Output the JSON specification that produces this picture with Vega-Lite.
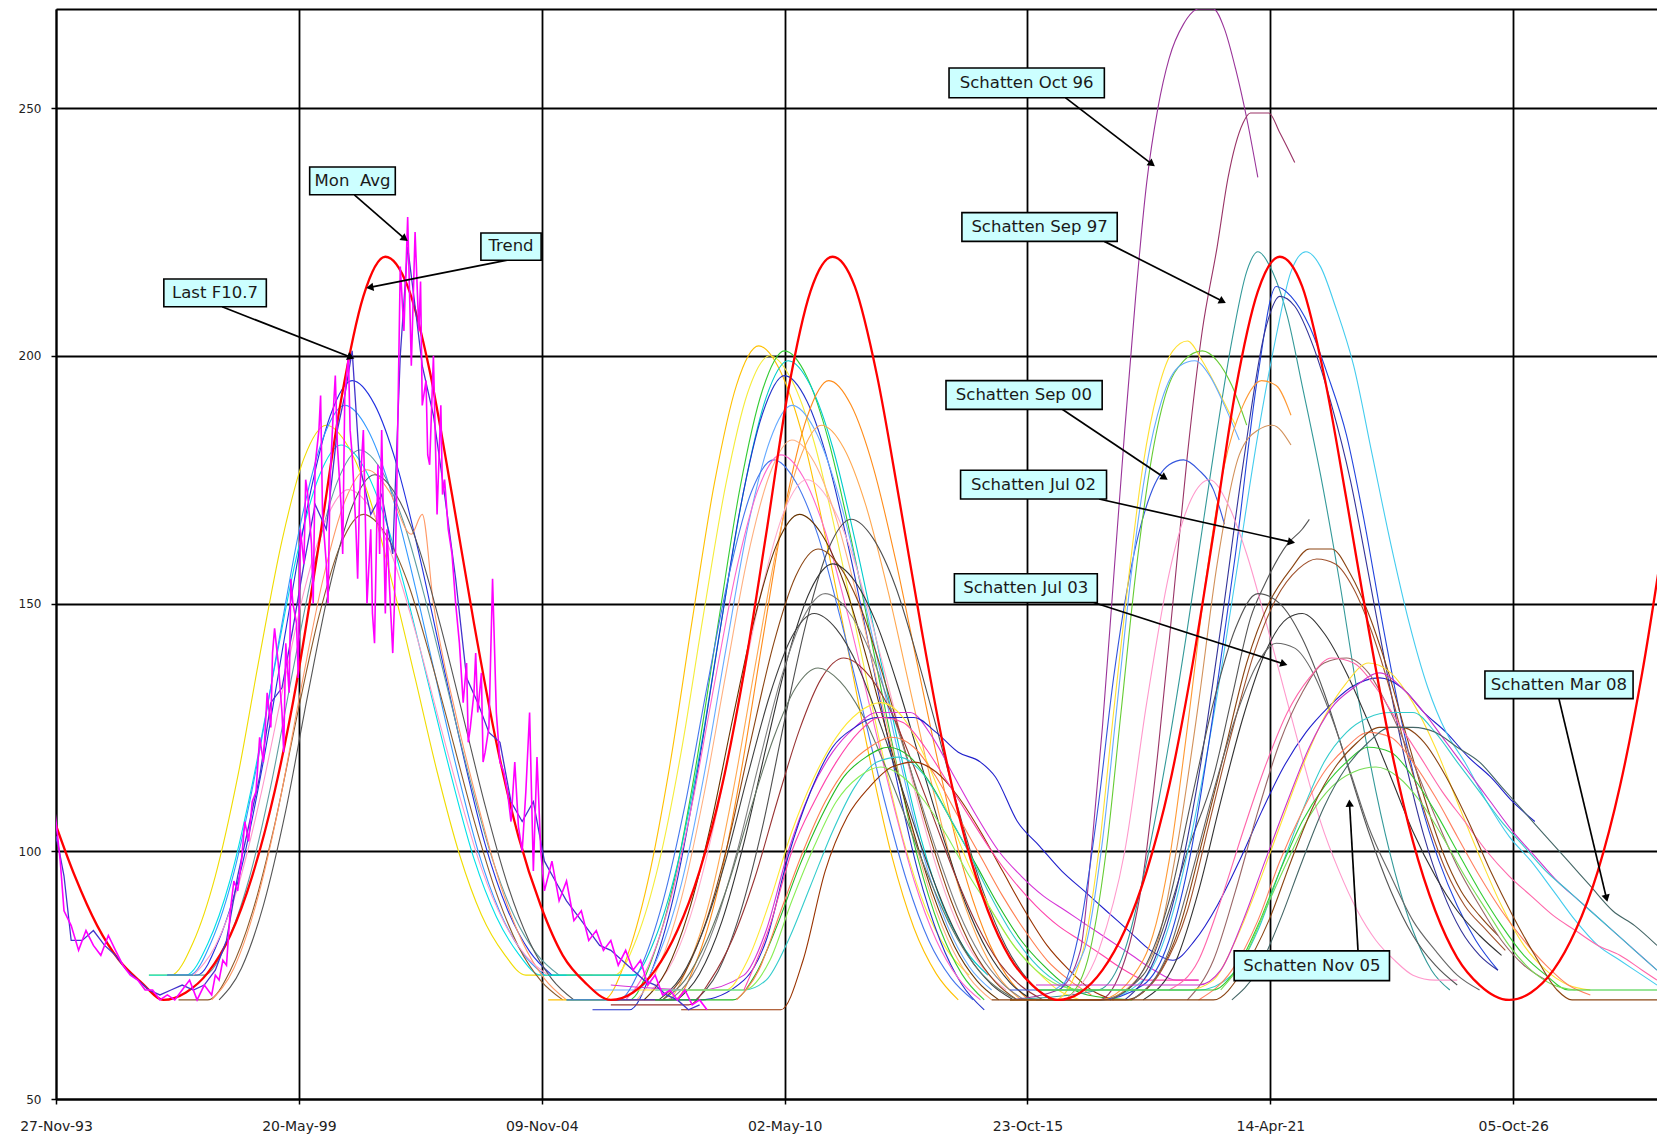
{
  "$schema": "https://vega.github.io/schema/vega-lite/v6.json",
  "width": 1601,
  "height": 1090,
  "autosize": {"type": "none"},
  "padding": {"left": 56, "top": 9, "right": 0, "bottom": 36},
  "background": "#ffffff",
  "datasets": {
    "schatten": [
      {"s":"a1","t":"1996-01","v":75},{"s":"a1","t":"1996-07","v":75},{"s":"a1","t":"1997-01","v":81.7},{"s":"a1","t":"1997-07","v":95},{"s":"a1","t":"1998-01","v":115},{"s":"a1","t":"1998-07","v":139.4},{"s":"a1","t":"1999-01","v":162.7},{"s":"a1","t":"1999-07","v":179.3},{"s":"a1","t":"2000-01","v":186},{"s":"a1","t":"2000-07","v":181.6},{"s":"a1","t":"2001-01","v":170.5},{"s":"a1","t":"2001-07","v":153.8},{"s":"a1","t":"2002-01","v":135},{"s":"a1","t":"2002-07","v":116.1},{"s":"a1","t":"2003-01","v":99.4},{"s":"a1","t":"2003-07","v":87.2},{"s":"a1","t":"2004-01","v":79.4},{"s":"a1","t":"2004-07","v":75},{"s":"a1","t":"2006-01","v":75},
      {"s":"a2","t":"1996-01","v":75},{"s":"a2","t":"1996-11","v":75},{"s":"a2","t":"1997-05","v":81.4},{"s":"a2","t":"1997-11","v":94.3},{"s":"a2","t":"1998-05","v":113.5},{"s":"a2","t":"1998-11","v":137.1},{"s":"a2","t":"1999-05","v":159.5},{"s":"a2","t":"1999-11","v":175.6},{"s":"a2","t":"2000-05","v":182},{"s":"a2","t":"2000-11","v":177.7},{"s":"a2","t":"2001-05","v":167},{"s":"a2","t":"2001-11","v":151},{"s":"a2","t":"2002-05","v":132.8},{"s":"a2","t":"2002-11","v":114.6},{"s":"a2","t":"2003-05","v":98.5},{"s":"a2","t":"2003-11","v":86.8},{"s":"a2","t":"2004-05","v":79.3},{"s":"a2","t":"2004-11","v":75},{"s":"a2","t":"2007-01","v":75},
      {"s":"a3","t":"1996-06","v":75},{"s":"a3","t":"1997-02","v":75},{"s":"a3","t":"1997-08","v":82.2},{"s":"a3","t":"1998-02","v":96.6},{"s":"a3","t":"1998-08","v":118.2},{"s":"a3","t":"1999-02","v":144.6},{"s":"a3","t":"1999-08","v":169.8},{"s":"a3","t":"2000-02","v":187.8},{"s":"a3","t":"2000-08","v":195},{"s":"a3","t":"2001-02","v":190.2},{"s":"a3","t":"2001-08","v":178.2},{"s":"a3","t":"2002-02","v":160.2},{"s":"a3","t":"2002-08","v":139.8},{"s":"a3","t":"2003-02","v":119.4},{"s":"a3","t":"2003-08","v":101.4},{"s":"a3","t":"2004-02","v":88.2},{"s":"a3","t":"2004-08","v":79.8},{"s":"a3","t":"2005-02","v":75},
      {"s":"a4","t":"1996-06","v":75},{"s":"a4","t":"1996-12","v":75},{"s":"a4","t":"1997-06","v":81.9},{"s":"a4","t":"1997-12","v":95.7},{"s":"a4","t":"1998-06","v":116.4},{"s":"a4","t":"1998-12","v":141.7},{"s":"a4","t":"1999-06","v":165.9},{"s":"a4","t":"1999-12","v":183.1},{"s":"a4","t":"2000-06","v":190},{"s":"a4","t":"2000-12","v":185.4},{"s":"a4","t":"2001-06","v":173.9},{"s":"a4","t":"2001-12","v":156.7},{"s":"a4","t":"2002-06","v":137.1},{"s":"a4","t":"2002-12","v":117.6},{"s":"a4","t":"2003-06","v":100.3},{"s":"a4","t":"2003-12","v":87.7},{"s":"a4","t":"2004-06","v":79.6},{"s":"a4","t":"2004-12","v":75},
      {"s":"a5","t":"1996-09","v":70},{"s":"a5","t":"1997-05","v":70},{"s":"a5","t":"1997-11","v":75.9},{"s":"a5","t":"1998-05","v":87.6},{"s":"a5","t":"1998-11","v":105.3},{"s":"a5","t":"1999-05","v":126.8},{"s":"a5","t":"1999-11","v":147.4},{"s":"a5","t":"2000-05","v":162.1},{"s":"a5","t":"2000-11","v":168},{"s":"a5","t":"2001-05","v":164.1},{"s":"a5","t":"2001-11","v":154.3},{"s":"a5","t":"2002-05","v":139.6},{"s":"a5","t":"2002-11","v":122.9},{"s":"a5","t":"2003-05","v":106.3},{"s":"a5","t":"2003-11","v":91.6},{"s":"a5","t":"2004-05","v":80.8},{"s":"a5","t":"2004-11","v":73.9},{"s":"a5","t":"2005-05","v":70},
      {"s":"a6","t":"1996-06","v":75},{"s":"a6","t":"1997-04","v":75},{"s":"a6","t":"1997-10","v":81.4},{"s":"a6","t":"1998-04","v":94.1},{"s":"a6","t":"1998-10","v":113.2},{"s":"a6","t":"1999-04","v":136.5},{"s":"a6","t":"1999-10","v":158.7},{"s":"a6","t":"2000-04","v":174.6},{"s":"a6","t":"2000-10","v":181},{"s":"a6","t":"2001-04","v":176.8},{"s":"a6","t":"2001-10","v":166.2},{"s":"a6","t":"2002-04","v":150.3},{"s":"a6","t":"2002-10","v":132.2},{"s":"a6","t":"2003-04","v":114.2},{"s":"a6","t":"2003-10","v":98.3},{"s":"a6","t":"2004-04","v":86.7},{"s":"a6","t":"2004-10","v":79.2},{"s":"a6","t":"2005-04","v":75},
      {"s":"a7","t":"1997-06","v":70},{"s":"a7","t":"1997-12","v":76.4},{"s":"a7","t":"1998-06","v":89.3},{"s":"a7","t":"1998-12","v":108.5},{"s":"a7","t":"1999-06","v":132.1},{"s":"a7","t":"1999-12","v":154.5},{"s":"a7","t":"2000-06","v":170.6},{"s":"a7","t":"2000-12","v":177},{"s":"a7","t":"2001-06","v":172.7},{"s":"a7","t":"2001-12","v":164},{"s":"a7","t":"2002-03","v":168},{"s":"a7","t":"2002-06","v":150},{"s":"a7","t":"2002-12","v":127.8},{"s":"a7","t":"2003-06","v":109.6},{"s":"a7","t":"2003-12","v":93.5},{"s":"a7","t":"2004-06","v":81.8},{"s":"a7","t":"2004-12","v":74.3},{"s":"a7","t":"2005-06","v":70},
      {"s":"a8","t":"1997-01","v":75},{"s":"a8","t":"1997-07","v":80.9},{"s":"a8","t":"1998-01","v":92.6},{"s":"a8","t":"1998-07","v":110.3},{"s":"a8","t":"1999-01","v":131.8},{"s":"a8","t":"1999-07","v":152.4},{"s":"a8","t":"2000-01","v":167.1},{"s":"a8","t":"2000-07","v":173},{"s":"a8","t":"2001-01","v":169.1},{"s":"a8","t":"2001-07","v":159.3},{"s":"a8","t":"2002-01","v":144.6},{"s":"a8","t":"2002-07","v":127.9},{"s":"a8","t":"2003-01","v":111.3},{"s":"a8","t":"2003-07","v":96.6},{"s":"a8","t":"2004-01","v":85.8},{"s":"a8","t":"2004-07","v":78.9},{"s":"a8","t":"2005-01","v":75},
      {"s":"a9","t":"1997-08","v":70},{"s":"a9","t":"1998-02","v":76.4},{"s":"a9","t":"1998-08","v":89.1},{"s":"a9","t":"1999-02","v":108.2},{"s":"a9","t":"1999-08","v":131.5},{"s":"a9","t":"2000-02","v":153.7},{"s":"a9","t":"2000-08","v":169.6},{"s":"a9","t":"2001-02","v":176},{"s":"a9","t":"2001-08","v":171.8},{"s":"a9","t":"2002-02","v":161.2},{"s":"a9","t":"2002-08","v":145.3},{"s":"a9","t":"2003-02","v":127.2},{"s":"a9","t":"2003-08","v":109.2},{"s":"a9","t":"2004-02","v":93.3},{"s":"a9","t":"2004-08","v":81.7},{"s":"a9","t":"2005-02","v":74.2},{"s":"a9","t":"2005-08","v":70},

      {"s":"b1","t":"2005-01","v":70},{"s":"b1","t":"2006-04","v":70},{"s":"b1","t":"2006-10","v":77.9},{"s":"b1","t":"2007-04","v":93.8},{"s":"b1","t":"2007-10","v":117.5},{"s":"b1","t":"2008-04","v":146.6},{"s":"b1","t":"2008-10","v":174.3},{"s":"b1","t":"2009-04","v":194.1},{"s":"b1","t":"2009-10","v":202},{"s":"b1","t":"2010-04","v":196.7},{"s":"b1","t":"2010-10","v":183.5},{"s":"b1","t":"2011-04","v":163.7},{"s":"b1","t":"2011-10","v":141.3},{"s":"b1","t":"2012-04","v":118.8},{"s":"b1","t":"2012-10","v":99},{"s":"b1","t":"2013-04","v":84.5},{"s":"b1","t":"2013-10","v":75.3},{"s":"b1","t":"2014-04","v":70},
      {"s":"b2","t":"2005-06","v":75},{"s":"b2","t":"2006-07","v":75},{"s":"b2","t":"2007-01","v":82.5},{"s":"b2","t":"2007-07","v":97.5},{"s":"b2","t":"2008-01","v":120},{"s":"b2","t":"2008-07","v":147.5},{"s":"b2","t":"2009-01","v":173.8},{"s":"b2","t":"2009-07","v":192.5},{"s":"b2","t":"2010-01","v":200},{"s":"b2","t":"2010-07","v":195},{"s":"b2","t":"2011-01","v":182.5},{"s":"b2","t":"2011-07","v":163.8},{"s":"b2","t":"2012-01","v":142.5},{"s":"b2","t":"2012-07","v":121.3},{"s":"b2","t":"2013-01","v":102.5},{"s":"b2","t":"2013-07","v":88.8},{"s":"b2","t":"2014-01","v":80},{"s":"b2","t":"2014-07","v":75},
      {"s":"b3","t":"2005-06","v":70},{"s":"b3","t":"2006-11","v":70},{"s":"b3","t":"2007-05","v":77.9},{"s":"b3","t":"2007-11","v":93.6},{"s":"b3","t":"2008-05","v":117.2},{"s":"b3","t":"2008-11","v":146},{"s":"b3","t":"2009-05","v":173.5},{"s":"b3","t":"2009-11","v":193.1},{"s":"b3","t":"2010-05","v":201},{"s":"b3","t":"2010-11","v":195.8},{"s":"b3","t":"2011-05","v":182.7},{"s":"b3","t":"2011-11","v":163},{"s":"b3","t":"2012-05","v":140.7},{"s":"b3","t":"2012-11","v":118.5},{"s":"b3","t":"2013-05","v":98.8},{"s":"b3","t":"2013-11","v":84.4},{"s":"b3","t":"2014-05","v":75.2},{"s":"b3","t":"2014-11","v":70},
      {"s":"b4","t":"2005-01","v":75},{"s":"b4","t":"2006-12","v":75},{"s":"b4","t":"2007-06","v":82.4},{"s":"b4","t":"2007-12","v":97.3},{"s":"b4","t":"2008-06","v":119.6},{"s":"b4","t":"2008-12","v":146.9},{"s":"b4","t":"2009-06","v":173},{"s":"b4","t":"2009-12","v":191.6},{"s":"b4","t":"2010-06","v":199},{"s":"b4","t":"2010-12","v":194},{"s":"b4","t":"2011-06","v":181.6},{"s":"b4","t":"2011-12","v":163},{"s":"b4","t":"2012-06","v":142},{"s":"b4","t":"2012-12","v":120.9},{"s":"b4","t":"2013-06","v":102.3},{"s":"b4","t":"2013-12","v":88.6},{"s":"b4","t":"2014-06","v":80},{"s":"b4","t":"2014-12","v":75},
      {"s":"b5","t":"2006-01","v":68},{"s":"b5","t":"2006-11","v":68},{"s":"b5","t":"2007-05","v":75.7},{"s":"b5","t":"2007-11","v":91},{"s":"b5","t":"2008-05","v":114.1},{"s":"b5","t":"2008-11","v":142.2},{"s":"b5","t":"2009-05","v":169.1},{"s":"b5","t":"2009-11","v":188.3},{"s":"b5","t":"2010-05","v":196},{"s":"b5","t":"2010-11","v":190.9},{"s":"b5","t":"2011-05","v":178.1},{"s":"b5","t":"2011-11","v":158.9},{"s":"b5","t":"2012-05","v":137.1},{"s":"b5","t":"2012-11","v":115.4},{"s":"b5","t":"2013-05","v":96.2},{"s":"b5","t":"2013-11","v":82.1},{"s":"b5","t":"2014-05","v":73.1},{"s":"b5","t":"2014-11","v":68},
      {"s":"b6","t":"2006-01","v":72},{"s":"b6","t":"2007-01","v":72},{"s":"b6","t":"2007-07","v":79.1},{"s":"b6","t":"2008-01","v":93.2},{"s":"b6","t":"2008-07","v":114.5},{"s":"b6","t":"2009-01","v":140.4},{"s":"b6","t":"2009-07","v":165.2},{"s":"b6","t":"2010-01","v":182.9},{"s":"b6","t":"2010-07","v":190},{"s":"b6","t":"2011-01","v":185.3},{"s":"b6","t":"2011-07","v":173.5},{"s":"b6","t":"2012-01","v":155.8},{"s":"b6","t":"2012-07","v":135.7},{"s":"b6","t":"2013-01","v":115.7},{"s":"b6","t":"2013-07","v":98},{"s":"b6","t":"2014-01","v":85},{"s":"b6","t":"2014-07","v":76.7},{"s":"b6","t":"2015-01","v":72},
      {"s":"b7","t":"2006-06","v":70},{"s":"b7","t":"2007-11","v":70},{"s":"b7","t":"2008-05","v":77.5},{"s":"b7","t":"2008-11","v":92.5},{"s":"b7","t":"2009-05","v":115},{"s":"b7","t":"2009-11","v":142.5},{"s":"b7","t":"2010-05","v":168.8},{"s":"b7","t":"2010-11","v":187.5},{"s":"b7","t":"2011-05","v":195},{"s":"b7","t":"2011-11","v":190},{"s":"b7","t":"2012-05","v":177.5},{"s":"b7","t":"2012-11","v":158.8},{"s":"b7","t":"2013-05","v":137.5},{"s":"b7","t":"2013-11","v":116.3},{"s":"b7","t":"2014-05","v":97.5},{"s":"b7","t":"2014-11","v":83.8},{"s":"b7","t":"2015-05","v":75},{"s":"b7","t":"2015-11","v":70},
      {"s":"b8","t":"2006-06","v":70},{"s":"b8","t":"2007-09","v":70},{"s":"b8","t":"2008-03","v":77},{"s":"b8","t":"2008-09","v":90.9},{"s":"b8","t":"2009-03","v":111.8},{"s":"b8","t":"2009-09","v":137.3},{"s":"b8","t":"2010-03","v":161.6},{"s":"b8","t":"2010-09","v":179},{"s":"b8","t":"2011-03","v":186},{"s":"b8","t":"2011-09","v":181.4},{"s":"b8","t":"2012-03","v":169.8},{"s":"b8","t":"2012-09","v":152.4},{"s":"b8","t":"2013-03","v":132.6},{"s":"b8","t":"2013-09","v":112.9},{"s":"b8","t":"2014-03","v":95.5},{"s":"b8","t":"2014-09","v":82.8},{"s":"b8","t":"2015-03","v":74.6},{"s":"b8","t":"2015-09","v":70},
      {"s":"b9","t":"2005-06","v":70},{"s":"b9","t":"2006-08","v":70},{"s":"b9","t":"2007-02","v":76.5},{"s":"b9","t":"2007-08","v":89.6},{"s":"b9","t":"2008-02","v":109.2},{"s":"b9","t":"2008-08","v":133.2},{"s":"b9","t":"2009-02","v":156.1},{"s":"b9","t":"2009-08","v":172.5},{"s":"b9","t":"2010-02","v":179},{"s":"b9","t":"2010-08","v":174.6},{"s":"b9","t":"2011-02","v":163.7},{"s":"b9","t":"2011-08","v":147.4},{"s":"b9","t":"2012-02","v":128.9},{"s":"b9","t":"2012-08","v":110.3},{"s":"b9","t":"2013-02","v":94},{"s":"b9","t":"2013-08","v":82},{"s":"b9","t":"2014-02","v":74.4},{"s":"b9","t":"2014-08","v":70},
      {"s":"b10","t":"2006-10","v":70},{"s":"b10","t":"2007-04","v":76.6},{"s":"b10","t":"2007-10","v":89.8},{"s":"b10","t":"2008-04","v":109.6},{"s":"b10","t":"2008-10","v":133.8},{"s":"b10","t":"2009-04","v":156.9},{"s":"b10","t":"2009-10","v":173.4},{"s":"b10","t":"2010-04","v":180},{"s":"b10","t":"2010-10","v":175.6},{"s":"b10","t":"2011-04","v":164.6},{"s":"b10","t":"2011-10","v":148.1},{"s":"b10","t":"2012-04","v":129.4},{"s":"b10","t":"2012-10","v":110.7},{"s":"b10","t":"2013-04","v":94.2},{"s":"b10","t":"2013-10","v":82.1},{"s":"b10","t":"2014-04","v":74.4},{"s":"b10","t":"2014-10","v":70},
      {"s":"b11","t":"2007-05","v":72},{"s":"b11","t":"2007-11","v":78.2},{"s":"b11","t":"2008-05","v":90.5},{"s":"b11","t":"2008-11","v":109.1},{"s":"b11","t":"2009-05","v":131.7},{"s":"b11","t":"2009-11","v":153.4},{"s":"b11","t":"2010-05","v":168.8},{"s":"b11","t":"2010-11","v":175},{"s":"b11","t":"2011-05","v":170.9},{"s":"b11","t":"2011-11","v":160.6},{"s":"b11","t":"2012-05","v":145.1},{"s":"b11","t":"2012-11","v":127.6},{"s":"b11","t":"2013-05","v":110.1},{"s":"b11","t":"2013-11","v":94.7},{"s":"b11","t":"2014-05","v":83.3},{"s":"b11","t":"2014-11","v":76.1},{"s":"b11","t":"2015-05","v":72},
      {"s":"b12","t":"2007-01","v":70},{"s":"b12","t":"2007-07","v":76.8},{"s":"b12","t":"2008-01","v":90.3},{"s":"b12","t":"2008-07","v":110.7},{"s":"b12","t":"2009-01","v":135.5},{"s":"b12","t":"2009-07","v":159.3},{"s":"b12","t":"2010-01","v":176.2},{"s":"b12","t":"2010-07","v":183},{"s":"b12","t":"2011-01","v":178.5},{"s":"b12","t":"2011-07","v":167.2},{"s":"b12","t":"2012-01","v":150.2},{"s":"b12","t":"2012-07","v":131},{"s":"b12","t":"2013-01","v":111.8},{"s":"b12","t":"2013-07","v":94.9},{"s":"b12","t":"2014-01","v":82.4},{"s":"b12","t":"2014-07","v":74.5},{"s":"b12","t":"2015-01","v":70},

      {"s":"d1","t":"2007-03","v":70},{"s":"d1","t":"2007-09","v":75.9},{"s":"d1","t":"2008-03","v":87.6},{"s":"d1","t":"2008-09","v":105.3},{"s":"d1","t":"2009-03","v":126.8},{"s":"d1","t":"2009-09","v":147.4},{"s":"d1","t":"2010-03","v":162.1},{"s":"d1","t":"2010-09","v":168},{"s":"d1","t":"2011-03","v":164.1},{"s":"d1","t":"2011-09","v":154.3},{"s":"d1","t":"2012-03","v":139.6},{"s":"d1","t":"2012-09","v":122.9},{"s":"d1","t":"2013-03","v":106.3},{"s":"d1","t":"2013-09","v":91.6},{"s":"d1","t":"2014-03","v":80.8},{"s":"d1","t":"2014-09","v":73.9},{"s":"d1","t":"2015-03","v":70},
      {"s":"d2","t":"2008-05","v":70},{"s":"d2","t":"2008-11","v":75.8},{"s":"d2","t":"2009-05","v":87.5},{"s":"d2","t":"2009-11","v":104.9},{"s":"d2","t":"2010-05","v":126.3},{"s":"d2","t":"2010-11","v":146.6},{"s":"d2","t":"2011-05","v":161.2},{"s":"d2","t":"2011-11","v":167},{"s":"d2","t":"2012-05","v":163.1},{"s":"d2","t":"2012-11","v":153.4},{"s":"d2","t":"2013-05","v":138.9},{"s":"d2","t":"2013-11","v":122.4},{"s":"d2","t":"2014-05","v":105.9},{"s":"d2","t":"2014-11","v":91.3},{"s":"d2","t":"2015-05","v":80.7},{"s":"d2","t":"2015-11","v":73.9},{"s":"d2","t":"2016-05","v":70},
      {"s":"d3","t":"2007-08","v":70},{"s":"d3","t":"2008-02","v":75.5},{"s":"d3","t":"2008-08","v":86.4},{"s":"d3","t":"2009-02","v":102.8},{"s":"d3","t":"2009-08","v":122.8},{"s":"d3","t":"2010-02","v":141.9},{"s":"d3","t":"2010-08","v":155.5},{"s":"d3","t":"2011-02","v":161},{"s":"d3","t":"2011-08","v":157.4},{"s":"d3","t":"2012-02","v":148.3},{"s":"d3","t":"2012-08","v":134.6},{"s":"d3","t":"2013-02","v":119.1},{"s":"d3","t":"2013-08","v":103.7},{"s":"d3","t":"2014-02","v":90},{"s":"d3","t":"2014-08","v":80},{"s":"d3","t":"2015-02","v":73.6},{"s":"d3","t":"2015-08","v":70},
      {"s":"d4","t":"2007-12","v":70},{"s":"d4","t":"2008-06","v":75.3},{"s":"d4","t":"2008-12","v":85.8},{"s":"d4","t":"2009-06","v":101.7},{"s":"d4","t":"2009-12","v":121},{"s":"d4","t":"2010-06","v":139.5},{"s":"d4","t":"2010-12","v":152.7},{"s":"d4","t":"2011-06","v":158},{"s":"d4","t":"2011-12","v":154.5},{"s":"d4","t":"2012-06","v":145.7},{"s":"d4","t":"2012-12","v":132.5},{"s":"d4","t":"2013-06","v":117.5},{"s":"d4","t":"2013-12","v":102.6},{"s":"d4","t":"2014-06","v":89.4},{"s":"d4","t":"2014-12","v":79.7},{"s":"d4","t":"2015-06","v":73.5},{"s":"d4","t":"2015-12","v":70},
      {"s":"d5","t":"2007-10","v":70},{"s":"d5","t":"2008-04","v":74.9},{"s":"d5","t":"2008-10","v":84.8},{"s":"d5","t":"2009-04","v":99.5},{"s":"d5","t":"2009-10","v":117.6},{"s":"d5","t":"2010-04","v":134.8},{"s":"d5","t":"2010-10","v":147.1},{"s":"d5","t":"2011-04","v":152},{"s":"d5","t":"2011-10","v":148.7},{"s":"d5","t":"2012-04","v":140.5},{"s":"d5","t":"2012-10","v":128.2},{"s":"d5","t":"2013-04","v":114.3},{"s":"d5","t":"2013-10","v":100.3},{"s":"d5","t":"2014-04","v":88},{"s":"d5","t":"2014-10","v":79},{"s":"d5","t":"2015-04","v":73.3},{"s":"d5","t":"2015-10","v":70},
      {"s":"d6","t":"2007-07","v":70},{"s":"d6","t":"2008-01","v":74.7},{"s":"d6","t":"2008-07","v":84},{"s":"d6","t":"2009-01","v":98.1},{"s":"d6","t":"2009-07","v":115.2},{"s":"d6","t":"2010-01","v":131.6},{"s":"d6","t":"2010-07","v":143.3},{"s":"d6","t":"2011-01","v":148},{"s":"d6","t":"2011-07","v":144.9},{"s":"d6","t":"2012-01","v":137.1},{"s":"d6","t":"2012-07","v":125.4},{"s":"d6","t":"2013-01","v":112.1},{"s":"d6","t":"2013-07","v":98.9},{"s":"d6","t":"2014-01","v":87.2},{"s":"d6","t":"2014-07","v":78.6},{"s":"d6","t":"2015-01","v":73.1},{"s":"d6","t":"2015-07","v":70},
      {"s":"d7","t":"2006-06","v":69},{"s":"d7","t":"2008-03","v":69},{"s":"d7","t":"2008-09","v":74.1},{"s":"d7","t":"2009-03","v":82.4},{"s":"d7","t":"2009-09","v":94.8},{"s":"d7","t":"2010-03","v":110},{"s":"d7","t":"2010-09","v":124.5},{"s":"d7","t":"2011-03","v":134.9},{"s":"d7","t":"2011-09","v":139},{"s":"d7","t":"2012-03","v":136.2},{"s":"d7","t":"2012-09","v":129.3},{"s":"d7","t":"2013-03","v":119},{"s":"d7","t":"2013-09","v":107.3},{"s":"d7","t":"2014-03","v":95.5},{"s":"d7","t":"2014-09","v":85.2},{"s":"d7","t":"2015-03","v":77.6},{"s":"d7","t":"2015-09","v":72.8},{"s":"d7","t":"2016-03","v":70},
      {"s":"d8","t":"2007-08","v":70},{"s":"d8","t":"2008-02","v":74},{"s":"d8","t":"2008-08","v":82.1},{"s":"d8","t":"2009-02","v":94.1},{"s":"d8","t":"2009-08","v":108.9},{"s":"d8","t":"2010-02","v":122.9},{"s":"d8","t":"2010-08","v":133},{"s":"d8","t":"2011-02","v":137},{"s":"d8","t":"2011-08","v":134.3},{"s":"d8","t":"2012-02","v":127.6},{"s":"d8","t":"2012-08","v":117.6},{"s":"d8","t":"2013-02","v":106.2},{"s":"d8","t":"2013-08","v":94.8},{"s":"d8","t":"2014-02","v":84.7},{"s":"d8","t":"2014-08","v":77.4},{"s":"d8","t":"2015-02","v":72.7},{"s":"d8","t":"2015-08","v":70},

      {"s":"l1","t":"2006-06","v":73},{"s":"l1","t":"2008-06","v":72},{"s":"l1","t":"2009-06","v":75},{"s":"l1","t":"2009-12","v":84},{"s":"l1","t":"2010-06","v":100},{"s":"l1","t":"2010-12","v":112},{"s":"l1","t":"2011-06","v":120},{"s":"l1","t":"2011-12","v":125},{"s":"l1","t":"2012-06","v":128},{"s":"l1","t":"2013-03","v":128},{"s":"l1","t":"2013-09","v":123},{"s":"l1","t":"2014-03","v":115},{"s":"l1","t":"2014-09","v":107},{"s":"l1","t":"2015-03","v":100},{"s":"l1","t":"2015-09","v":95},{"s":"l1","t":"2016-03","v":91},{"s":"l1","t":"2016-09","v":88},{"s":"l1","t":"2017-03","v":85},{"s":"l1","t":"2017-09","v":82},{"s":"l1","t":"2018-03","v":79},{"s":"l1","t":"2018-09","v":76},{"s":"l1","t":"2019-03","v":74},{"s":"l1","t":"2019-09","v":74},
      {"s":"l2","t":"2006-06","v":70},{"s":"l2","t":"2008-06","v":70},{"s":"l2","t":"2009-06","v":74},{"s":"l2","t":"2009-12","v":82},{"s":"l2","t":"2010-06","v":99},{"s":"l2","t":"2010-12","v":112},{"s":"l2","t":"2011-06","v":121},{"s":"l2","t":"2011-12","v":125},{"s":"l2","t":"2012-06","v":127},{"s":"l2","t":"2013-04","v":127},{"s":"l2","t":"2013-10","v":124},{"s":"l2","t":"2014-04","v":120},{"s":"l2","t":"2014-10","v":118},{"s":"l2","t":"2015-02","v":115},{"s":"l2","t":"2015-08","v":106},{"s":"l2","t":"2016-02","v":101},{"s":"l2","t":"2016-08","v":96},{"s":"l2","t":"2017-02","v":92},{"s":"l2","t":"2017-08","v":88},{"s":"l2","t":"2018-02","v":84},{"s":"l2","t":"2018-08","v":80},{"s":"l2","t":"2019-02","v":78},{"s":"l2","t":"2019-08","v":82},{"s":"l2","t":"2020-02","v":89},{"s":"l2","t":"2020-08","v":98},{"s":"l2","t":"2021-02","v":108},{"s":"l2","t":"2021-08","v":117},{"s":"l2","t":"2022-02","v":124},{"s":"l2","t":"2022-08","v":129},{"s":"l2","t":"2023-02","v":133},{"s":"l2","t":"2023-10","v":135},{"s":"l2","t":"2024-04","v":133},{"s":"l2","t":"2024-10","v":128},{"s":"l2","t":"2025-04","v":124},{"s":"l2","t":"2025-10","v":119},{"s":"l2","t":"2026-04","v":115},{"s":"l2","t":"2026-10","v":110},{"s":"l2","t":"2027-04","v":106},
      {"s":"l3","t":"2007-01","v":72},{"s":"l3","t":"2009-01","v":72},{"s":"l3","t":"2009-07","v":78},{"s":"l3","t":"2010-01","v":90},{"s":"l3","t":"2010-07","v":104},{"s":"l3","t":"2011-01","v":115},{"s":"l3","t":"2011-07","v":123},{"s":"l3","t":"2012-01","v":128},{"s":"l3","t":"2012-07","v":130},{"s":"l3","t":"2013-01","v":127},{"s":"l3","t":"2013-07","v":119},{"s":"l3","t":"2014-01","v":108},{"s":"l3","t":"2014-07","v":97},{"s":"l3","t":"2015-01","v":88},{"s":"l3","t":"2015-07","v":81},{"s":"l3","t":"2016-01","v":76},{"s":"l3","t":"2016-07","v":72},{"s":"l3","t":"2017-01","v":70},
      {"s":"l4","t":"2007-06","v":70},{"s":"l4","t":"2009-03","v":70},{"s":"l4","t":"2009-09","v":75},{"s":"l4","t":"2010-03","v":85},{"s":"l4","t":"2010-09","v":97},{"s":"l4","t":"2011-03","v":107},{"s":"l4","t":"2011-09","v":115},{"s":"l4","t":"2012-03","v":119},{"s":"l4","t":"2012-09","v":121},{"s":"l4","t":"2013-03","v":119},{"s":"l4","t":"2013-09","v":113},{"s":"l4","t":"2014-03","v":105},{"s":"l4","t":"2014-09","v":97},{"s":"l4","t":"2015-03","v":89},{"s":"l4","t":"2015-09","v":82},{"s":"l4","t":"2016-03","v":77},{"s":"l4","t":"2016-09","v":73},{"s":"l4","t":"2017-03","v":71},{"s":"l4","t":"2018-03","v":70},
      {"s":"l5","t":"2007-06","v":72},{"s":"l5","t":"2009-06","v":72},{"s":"l5","t":"2009-12","v":74},{"s":"l5","t":"2010-06","v":82},{"s":"l5","t":"2010-12","v":93},{"s":"l5","t":"2011-06","v":104},{"s":"l5","t":"2011-12","v":113},{"s":"l5","t":"2012-06","v":118},{"s":"l5","t":"2012-12","v":119},{"s":"l5","t":"2013-06","v":116},{"s":"l5","t":"2013-12","v":109},{"s":"l5","t":"2014-06","v":101},{"s":"l5","t":"2014-12","v":92},{"s":"l5","t":"2015-06","v":84},{"s":"l5","t":"2015-12","v":78},{"s":"l5","t":"2016-06","v":74},{"s":"l5","t":"2016-12","v":72},{"s":"l5","t":"2017-06","v":72},
      {"s":"l6","t":"2008-01","v":72},{"s":"l6","t":"2009-06","v":72},{"s":"l6","t":"2010-01","v":78},{"s":"l6","t":"2010-07","v":90},{"s":"l6","t":"2011-01","v":101},{"s":"l6","t":"2011-07","v":110},{"s":"l6","t":"2012-01","v":115},{"s":"l6","t":"2012-07","v":117},{"s":"l6","t":"2013-01","v":115},{"s":"l6","t":"2013-07","v":110},{"s":"l6","t":"2014-01","v":103},{"s":"l6","t":"2014-07","v":95},{"s":"l6","t":"2015-01","v":88},{"s":"l6","t":"2015-07","v":81},{"s":"l6","t":"2016-01","v":76},{"s":"l6","t":"2016-07","v":73},{"s":"l6","t":"2017-01","v":72},
      {"s":"l7","t":"2009-04","v":70},{"s":"l7","t":"2009-10","v":76},{"s":"l7","t":"2010-04","v":88},{"s":"l7","t":"2010-10","v":100},{"s":"l7","t":"2011-04","v":110},{"s":"l7","t":"2011-10","v":117},{"s":"l7","t":"2012-04","v":121},{"s":"l7","t":"2012-10","v":123},{"s":"l7","t":"2013-04","v":121},{"s":"l7","t":"2013-10","v":115},{"s":"l7","t":"2014-04","v":107},{"s":"l7","t":"2014-10","v":99},{"s":"l7","t":"2015-04","v":91},{"s":"l7","t":"2015-10","v":84},{"s":"l7","t":"2016-04","v":78},{"s":"l7","t":"2016-10","v":74},{"s":"l7","t":"2017-04","v":71},
      {"s":"l8","t":"2008-01","v":68},{"s":"l8","t":"2010-04","v":68},{"s":"l8","t":"2010-10","v":78},{"s":"l8","t":"2011-04","v":96},{"s":"l8","t":"2011-10","v":107},{"s":"l8","t":"2012-04","v":113},{"s":"l8","t":"2012-10","v":117},{"s":"l8","t":"2013-04","v":118},{"s":"l8","t":"2013-10","v":116},{"s":"l8","t":"2014-04","v":111},{"s":"l8","t":"2014-10","v":104},{"s":"l8","t":"2015-04","v":96},{"s":"l8","t":"2015-10","v":88},{"s":"l8","t":"2016-04","v":81},{"s":"l8","t":"2016-10","v":76},{"s":"l8","t":"2017-04","v":72},{"s":"l8","t":"2017-10","v":70},
      {"s":"l9","t":"2009-06","v":72},{"s":"l9","t":"2010-01","v":85},{"s":"l9","t":"2010-07","v":100},{"s":"l9","t":"2011-01","v":110},{"s":"l9","t":"2011-07","v":118},{"s":"l9","t":"2012-01","v":124},{"s":"l9","t":"2012-07","v":127},{"s":"l9","t":"2013-01","v":126},{"s":"l9","t":"2013-07","v":121},{"s":"l9","t":"2014-01","v":114},{"s":"l9","t":"2014-07","v":107},{"s":"l9","t":"2015-01","v":100},{"s":"l9","t":"2015-07","v":94},{"s":"l9","t":"2016-01","v":89},{"s":"l9","t":"2016-07","v":85},{"s":"l9","t":"2017-01","v":82},{"s":"l9","t":"2017-07","v":79},{"s":"l9","t":"2018-01","v":76},{"s":"l9","t":"2018-07","v":74},{"s":"l9","t":"2019-01","v":74},{"s":"l9","t":"2019-09","v":74},

      {"s":"e1","t":"2015-06","v":70},{"s":"e1","t":"2016-07","v":72},{"s":"e1","t":"2017-01","v":80},{"s":"e1","t":"2017-04","v":100},{"s":"e1","t":"2017-07","v":125},{"s":"e1","t":"2017-10","v":155},{"s":"e1","t":"2018-01","v":185},{"s":"e1","t":"2018-04","v":212},{"s":"e1","t":"2018-07","v":235},{"s":"e1","t":"2018-10","v":250},{"s":"e1","t":"2019-01","v":260},{"s":"e1","t":"2019-05","v":267},{"s":"e1","t":"2019-09","v":270},{"s":"e1","t":"2020-01","v":270},{"s":"e1","t":"2020-04","v":266},{"s":"e1","t":"2020-07","v":258},{"s":"e1","t":"2020-10","v":248},{"s":"e1","t":"2021-01","v":236},
      {"s":"e2","t":"2015-06","v":70},{"s":"e2","t":"2017-06","v":70},{"s":"e2","t":"2018-01","v":78},{"s":"e2","t":"2018-06","v":95},{"s":"e2","t":"2018-10","v":120},{"s":"e2","t":"2019-02","v":150},{"s":"e2","t":"2019-06","v":180},{"s":"e2","t":"2019-10","v":205},{"s":"e2","t":"2020-02","v":222},{"s":"e2","t":"2020-05","v":236},{"s":"e2","t":"2020-09","v":247},{"s":"e2","t":"2020-11","v":249},{"s":"e2","t":"2021-04","v":249},{"s":"e2","t":"2021-07","v":245},{"s":"e2","t":"2021-11","v":239},
      {"s":"e3","t":"2015-06","v":72},{"s":"e3","t":"2016-07","v":72},{"s":"e3","t":"2017-01","v":85},{"s":"e3","t":"2017-06","v":110},{"s":"e3","t":"2017-10","v":135},{"s":"e3","t":"2018-03","v":158},{"s":"e3","t":"2018-08","v":172},{"s":"e3","t":"2019-01","v":178},{"s":"e3","t":"2019-05","v":179},{"s":"e3","t":"2019-09","v":177},{"s":"e3","t":"2020-01","v":173},{"s":"e3","t":"2020-04","v":166},
      {"s":"e4","t":"2016-01","v":70},{"s":"e4","t":"2017-06","v":70},{"s":"e4","t":"2018-06","v":75},{"s":"e4","t":"2019-01","v":88},{"s":"e4","t":"2019-06","v":100},{"s":"e4","t":"2020-01","v":115},{"s":"e4","t":"2020-06","v":131},{"s":"e4","t":"2020-11","v":147},{"s":"e4","t":"2021-03","v":154},{"s":"e4","t":"2021-09","v":162},{"s":"e4","t":"2022-01","v":165},{"s":"e4","t":"2022-03","v":167},
      {"s":"e5","t":"2015-06","v":70},{"s":"e5","t":"2017-06","v":72},{"s":"e5","t":"2018-01","v":80},{"s":"e5","t":"2018-07","v":98},{"s":"e5","t":"2019-01","v":122},{"s":"e5","t":"2019-06","v":145},{"s":"e5","t":"2019-10","v":165},{"s":"e5","t":"2020-02","v":185},{"s":"e5","t":"2020-06","v":203},{"s":"e5","t":"2020-10","v":217},{"s":"e5","t":"2021-01","v":221},{"s":"e5","t":"2021-05","v":217},{"s":"e5","t":"2021-09","v":208},{"s":"e5","t":"2022-01","v":194},{"s":"e5","t":"2022-06","v":176},{"s":"e5","t":"2022-11","v":155},{"s":"e5","t":"2023-04","v":132},{"s":"e5","t":"2023-09","v":112},{"s":"e5","t":"2024-02","v":96},{"s":"e5","t":"2024-07","v":84},{"s":"e5","t":"2024-12","v":76},{"s":"e5","t":"2025-05","v":72},
      {"s":"e6","t":"2016-01","v":70},{"s":"e6","t":"2017-06","v":70},{"s":"e6","t":"2018-06","v":74},{"s":"e6","t":"2019-01","v":85},{"s":"e6","t":"2019-07","v":103},{"s":"e6","t":"2020-01","v":127},{"s":"e6","t":"2020-07","v":155},{"s":"e6","t":"2021-01","v":184},{"s":"e6","t":"2021-06","v":204},{"s":"e6","t":"2021-10","v":217},{"s":"e6","t":"2022-02","v":221},{"s":"e6","t":"2022-06","v":218},{"s":"e6","t":"2022-10","v":210},{"s":"e6","t":"2023-03","v":198},{"s":"e6","t":"2023-08","v":180},{"s":"e6","t":"2024-01","v":162},{"s":"e6","t":"2024-06","v":146},{"s":"e6","t":"2024-11","v":133},{"s":"e6","t":"2025-04","v":124},{"s":"e6","t":"2025-09","v":118},{"s":"e6","t":"2026-03","v":110},{"s":"e6","t":"2026-09","v":103},{"s":"e6","t":"2027-03","v":98},{"s":"e6","t":"2027-09","v":92},{"s":"e6","t":"2028-03","v":86},{"s":"e6","t":"2028-09","v":81},{"s":"e6","t":"2029-03","v":78},{"s":"e6","t":"2029-09","v":75},{"s":"e6","t":"2030-01","v":73},
      {"s":"e7","t":"2016-01","v":70},{"s":"e7","t":"2017-06","v":70},{"s":"e7","t":"2018-06","v":73},{"s":"e7","t":"2019-01","v":82},{"s":"e7","t":"2019-07","v":100},{"s":"e7","t":"2020-01","v":128},{"s":"e7","t":"2020-07","v":160},{"s":"e7","t":"2021-01","v":196},{"s":"e7","t":"2021-06","v":214},{"s":"e7","t":"2021-10","v":212},{"s":"e7","t":"2022-03","v":206},{"s":"e7","t":"2022-08","v":196},{"s":"e7","t":"2023-01","v":184},{"s":"e7","t":"2023-06","v":166},{"s":"e7","t":"2023-11","v":145},{"s":"e7","t":"2024-04","v":126},{"s":"e7","t":"2024-09","v":110},{"s":"e7","t":"2025-02","v":98},{"s":"e7","t":"2025-07","v":89},{"s":"e7","t":"2025-12","v":82},{"s":"e7","t":"2026-06","v":76},
      {"s":"e30","t":"2018-01","v":70},{"s":"e30","t":"2018-09","v":78},{"s":"e30","t":"2019-03","v":92},{"s":"e30","t":"2019-09","v":115},{"s":"e30","t":"2020-03","v":145},{"s":"e30","t":"2020-09","v":178},{"s":"e30","t":"2021-03","v":205},{"s":"e30","t":"2021-07","v":212},{"s":"e30","t":"2021-11","v":210},{"s":"e30","t":"2022-04","v":202},{"s":"e30","t":"2022-09","v":190},{"s":"e30","t":"2023-02","v":175},{"s":"e30","t":"2023-07","v":156},{"s":"e30","t":"2023-12","v":136},{"s":"e30","t":"2024-05","v":118},{"s":"e30","t":"2024-10","v":103},{"s":"e30","t":"2025-03","v":92},{"s":"e30","t":"2025-08","v":84},{"s":"e30","t":"2026-01","v":79},{"s":"e30","t":"2026-06","v":76},
      {"s":"e8","t":"2015-06","v":70},{"s":"e8","t":"2016-06","v":70},{"s":"e8","t":"2017-01","v":78},{"s":"e8","t":"2017-06","v":100},{"s":"e8","t":"2017-10","v":128},{"s":"e8","t":"2018-02","v":155},{"s":"e8","t":"2018-06","v":178},{"s":"e8","t":"2018-10","v":193},{"s":"e8","t":"2019-02","v":201},{"s":"e8","t":"2019-06","v":203},{"s":"e8","t":"2019-10","v":199},{"s":"e8","t":"2020-03","v":192},{"s":"e8","t":"2020-07","v":186},
      {"s":"e9","t":"2016-09","v":70},{"s":"e9","t":"2017-03","v":78},{"s":"e9","t":"2017-08","v":100},{"s":"e9","t":"2017-12","v":128},{"s":"e9","t":"2018-04","v":156},{"s":"e9","t":"2018-08","v":178},{"s":"e9","t":"2018-12","v":192},{"s":"e9","t":"2019-05","v":199},{"s":"e9","t":"2019-10","v":201},{"s":"e9","t":"2020-02","v":199},{"s":"e9","t":"2020-06","v":194},{"s":"e9","t":"2020-10","v":186},
      {"s":"e10","t":"2016-06","v":72},{"s":"e10","t":"2017-02","v":80},{"s":"e10","t":"2017-07","v":102},{"s":"e10","t":"2017-11","v":130},{"s":"e10","t":"2018-03","v":157},{"s":"e10","t":"2018-07","v":178},{"s":"e10","t":"2018-11","v":191},{"s":"e10","t":"2019-04","v":198},{"s":"e10","t":"2019-08","v":199},{"s":"e10","t":"2019-12","v":196},{"s":"e10","t":"2020-04","v":190},{"s":"e10","t":"2020-08","v":183},
      {"s":"e11","t":"2016-06","v":70},{"s":"e11","t":"2017-06","v":70},{"s":"e11","t":"2018-06","v":78},{"s":"e11","t":"2019-01","v":98},{"s":"e11","t":"2019-06","v":125},{"s":"e11","t":"2019-11","v":155},{"s":"e11","t":"2020-04","v":178},{"s":"e11","t":"2020-09","v":190},{"s":"e11","t":"2021-02","v":195},{"s":"e11","t":"2021-06","v":194},{"s":"e11","t":"2021-10","v":188},
      {"s":"e12","t":"2017-09","v":70},{"s":"e12","t":"2018-09","v":80},{"s":"e12","t":"2019-03","v":100},{"s":"e12","t":"2019-09","v":130},{"s":"e12","t":"2020-02","v":158},{"s":"e12","t":"2020-08","v":180},{"s":"e12","t":"2021-01","v":185},{"s":"e12","t":"2021-05","v":186},{"s":"e12","t":"2021-10","v":182},
      {"s":"e13","t":"2016-09","v":70},{"s":"e13","t":"2017-06","v":80},{"s":"e13","t":"2018-01","v":100},{"s":"e13","t":"2018-07","v":130},{"s":"e13","t":"2019-01","v":156},{"s":"e13","t":"2019-07","v":171},{"s":"e13","t":"2019-12","v":175},{"s":"e13","t":"2020-05","v":170},{"s":"e13","t":"2020-10","v":160},{"s":"e13","t":"2021-03","v":147},{"s":"e13","t":"2021-08","v":133},{"s":"e13","t":"2022-01","v":119},{"s":"e13","t":"2022-06","v":106},{"s":"e13","t":"2022-11","v":96},{"s":"e13","t":"2023-04","v":88},{"s":"e13","t":"2023-09","v":82},{"s":"e13","t":"2024-02","v":78},{"s":"e13","t":"2024-07","v":75},{"s":"e13","t":"2025-01","v":74},{"s":"e13","t":"2025-07","v":74},
      {"s":"e14","t":"2015-06","v":70},{"s":"e14","t":"2018-01","v":70},{"s":"e14","t":"2018-09","v":74},{"s":"e14","t":"2019-04","v":85},{"s":"e14","t":"2019-10","v":102},{"s":"e14","t":"2020-04","v":120},{"s":"e14","t":"2020-10","v":138},{"s":"e14","t":"2021-04","v":150},{"s":"e14","t":"2021-10","v":157},{"s":"e14","t":"2022-03","v":161},{"s":"e14","t":"2022-09","v":161},{"s":"e14","t":"2023-02","v":156},{"s":"e14","t":"2023-07","v":148},{"s":"e14","t":"2023-12","v":137},{"s":"e14","t":"2024-05","v":124},{"s":"e14","t":"2024-10","v":111},{"s":"e14","t":"2025-03","v":100},{"s":"e14","t":"2025-08","v":92},{"s":"e14","t":"2026-01","v":87},{"s":"e14","t":"2026-06","v":83},
      {"s":"e15","t":"2018-03","v":70},{"s":"e15","t":"2018-11","v":76},{"s":"e15","t":"2019-06","v":88},{"s":"e15","t":"2019-12","v":106},{"s":"e15","t":"2020-06","v":124},{"s":"e15","t":"2020-12","v":140},{"s":"e15","t":"2021-06","v":151},{"s":"e15","t":"2021-12","v":157},{"s":"e15","t":"2022-05","v":159},{"s":"e15","t":"2022-10","v":158},{"s":"e15","t":"2023-03","v":153},{"s":"e15","t":"2023-08","v":144},{"s":"e15","t":"2024-01","v":132},{"s":"e15","t":"2024-06","v":118},{"s":"e15","t":"2024-11","v":106},{"s":"e15","t":"2025-04","v":96},{"s":"e15","t":"2025-09","v":89},{"s":"e15","t":"2026-03","v":84},{"s":"e15","t":"2026-08","v":80},
      {"s":"e16","t":"2017-09","v":70},{"s":"e16","t":"2018-06","v":76},{"s":"e16","t":"2019-01","v":90},{"s":"e16","t":"2019-07","v":110},{"s":"e16","t":"2020-01","v":130},{"s":"e16","t":"2020-07","v":145},{"s":"e16","t":"2021-01","v":152},{"s":"e16","t":"2021-07","v":150},{"s":"e16","t":"2022-01","v":143},{"s":"e16","t":"2022-07","v":132},{"s":"e16","t":"2023-01","v":118},{"s":"e16","t":"2023-07","v":104},{"s":"e16","t":"2024-01","v":92},{"s":"e16","t":"2024-07","v":83},{"s":"e16","t":"2025-01","v":77},{"s":"e16","t":"2025-07","v":73},
      {"s":"e17","t":"2018-06","v":70},{"s":"e17","t":"2019-03","v":78},{"s":"e17","t":"2019-09","v":92},{"s":"e17","t":"2020-03","v":110},{"s":"e17","t":"2020-09","v":127},{"s":"e17","t":"2021-03","v":140},{"s":"e17","t":"2021-09","v":147},{"s":"e17","t":"2022-01","v":148},{"s":"e17","t":"2022-07","v":144},{"s":"e17","t":"2023-01","v":136},{"s":"e17","t":"2023-07","v":126},{"s":"e17","t":"2024-01","v":115},{"s":"e17","t":"2024-07","v":104},{"s":"e17","t":"2025-01","v":95},{"s":"e17","t":"2025-07","v":88},{"s":"e17","t":"2026-01","v":83},{"s":"e17","t":"2026-07","v":79},
      {"s":"e18","t":"2018-03","v":70},{"s":"e18","t":"2019-01","v":80},{"s":"e18","t":"2019-07","v":95},{"s":"e18","t":"2020-01","v":112},{"s":"e18","t":"2020-07","v":127},{"s":"e18","t":"2021-01","v":138},{"s":"e18","t":"2021-06","v":142},{"s":"e18","t":"2021-11","v":141},{"s":"e18","t":"2022-04","v":136},{"s":"e18","t":"2022-09","v":127},{"s":"e18","t":"2023-02","v":116},{"s":"e18","t":"2023-07","v":105},{"s":"e18","t":"2024-01","v":95},{"s":"e18","t":"2024-07","v":86},{"s":"e18","t":"2025-01","v":80},{"s":"e18","t":"2025-07","v":75},{"s":"e18","t":"2026-01","v":72},
      {"s":"e19","t":"2019-06","v":70},{"s":"e19","t":"2020-01","v":78},{"s":"e19","t":"2020-07","v":92},{"s":"e19","t":"2021-01","v":108},{"s":"e19","t":"2021-07","v":122},{"s":"e19","t":"2022-01","v":132},{"s":"e19","t":"2022-07","v":138},{"s":"e19","t":"2023-01","v":139},{"s":"e19","t":"2023-07","v":136},{"s":"e19","t":"2024-01","v":128},{"s":"e19","t":"2024-07","v":118},{"s":"e19","t":"2025-01","v":107},{"s":"e19","t":"2025-07","v":97},{"s":"e19","t":"2026-01","v":89},{"s":"e19","t":"2026-07","v":82},{"s":"e19","t":"2027-01","v":77},{"s":"e19","t":"2027-07","v":74},
      {"s":"e20","t":"2016-01","v":72},{"s":"e20","t":"2019-06","v":72},{"s":"e20","t":"2020-01","v":74},{"s":"e20","t":"2020-07","v":82},{"s":"e20","t":"2021-01","v":93},{"s":"e20","t":"2021-07","v":105},{"s":"e20","t":"2022-01","v":117},{"s":"e20","t":"2022-07","v":127},{"s":"e20","t":"2023-01","v":134},{"s":"e20","t":"2023-07","v":138},{"s":"e20","t":"2024-01","v":136},{"s":"e20","t":"2024-07","v":130},{"s":"e20","t":"2025-01","v":121},{"s":"e20","t":"2025-07","v":110},{"s":"e20","t":"2026-01","v":99},{"s":"e20","t":"2026-07","v":89},{"s":"e20","t":"2027-01","v":81},{"s":"e20","t":"2027-07","v":76},{"s":"e20","t":"2028-01","v":73},{"s":"e20","t":"2028-07","v":72},
      {"s":"e21","t":"2016-01","v":73},{"s":"e21","t":"2019-09","v":73},{"s":"e21","t":"2020-03","v":76},{"s":"e21","t":"2020-09","v":86},{"s":"e21","t":"2021-03","v":98},{"s":"e21","t":"2021-09","v":110},{"s":"e21","t":"2022-03","v":121},{"s":"e21","t":"2022-09","v":129},{"s":"e21","t":"2023-03","v":133},{"s":"e21","t":"2023-10","v":136},{"s":"e21","t":"2024-04","v":133},{"s":"e21","t":"2024-10","v":128},{"s":"e21","t":"2025-04","v":122},{"s":"e21","t":"2025-10","v":116},{"s":"e21","t":"2026-04","v":110},{"s":"e21","t":"2026-10","v":104},{"s":"e21","t":"2027-04","v":99},{"s":"e21","t":"2027-10","v":94},{"s":"e21","t":"2028-04","v":90},{"s":"e21","t":"2028-10","v":86},{"s":"e21","t":"2029-04","v":82},{"s":"e21","t":"2029-10","v":78},{"s":"e21","t":"2030-01","v":76},
      {"s":"e22","t":"2019-01","v":72},{"s":"e22","t":"2019-09","v":78},{"s":"e22","t":"2020-03","v":90},{"s":"e22","t":"2020-09","v":104},{"s":"e22","t":"2021-03","v":117},{"s":"e22","t":"2021-09","v":128},{"s":"e22","t":"2022-03","v":135},{"s":"e22","t":"2022-09","v":139},{"s":"e22","t":"2023-03","v":138},{"s":"e22","t":"2023-09","v":133},{"s":"e22","t":"2024-03","v":126},{"s":"e22","t":"2024-09","v":119},{"s":"e22","t":"2025-03","v":112},{"s":"e22","t":"2025-09","v":106},{"s":"e22","t":"2026-03","v":100},{"s":"e22","t":"2026-09","v":95},{"s":"e22","t":"2027-03","v":91},{"s":"e22","t":"2027-09","v":87},{"s":"e22","t":"2028-03","v":84},{"s":"e22","t":"2028-09","v":81},{"s":"e22","t":"2029-03","v":79},{"s":"e22","t":"2029-09","v":76},{"s":"e22","t":"2030-01","v":74},
      {"s":"e23","t":"2016-01","v":72},{"s":"e23","t":"2019-09","v":72},{"s":"e23","t":"2020-06","v":75},{"s":"e23","t":"2021-01","v":84},{"s":"e23","t":"2021-07","v":96},{"s":"e23","t":"2022-01","v":108},{"s":"e23","t":"2022-07","v":118},{"s":"e23","t":"2023-01","v":124},{"s":"e23","t":"2023-07","v":127},{"s":"e23","t":"2024-01","v":128},{"s":"e23","t":"2024-07","v":128},{"s":"e23","t":"2025-01","v":124},{"s":"e23","t":"2025-07","v":118},{"s":"e23","t":"2026-01","v":112},{"s":"e23","t":"2026-07","v":106},{"s":"e23","t":"2027-01","v":101},{"s":"e23","t":"2027-07","v":96},{"s":"e23","t":"2028-01","v":92},{"s":"e23","t":"2028-07","v":88},{"s":"e23","t":"2029-01","v":84},{"s":"e23","t":"2029-07","v":80},{"s":"e23","t":"2030-01","v":76},
      {"s":"e24","t":"2019-09","v":70},{"s":"e24","t":"2020-06","v":76},{"s":"e24","t":"2021-01","v":86},{"s":"e24","t":"2021-07","v":98},{"s":"e24","t":"2022-01","v":108},{"s":"e24","t":"2022-07","v":116},{"s":"e24","t":"2023-01","v":121},{"s":"e24","t":"2023-07","v":124},{"s":"e24","t":"2024-01","v":123},{"s":"e24","t":"2024-07","v":118},{"s":"e24","t":"2025-01","v":111},{"s":"e24","t":"2025-07","v":103},{"s":"e24","t":"2026-01","v":95},{"s":"e24","t":"2026-07","v":88},{"s":"e24","t":"2027-01","v":82},{"s":"e24","t":"2027-07","v":77},{"s":"e24","t":"2028-01","v":73},{"s":"e24","t":"2028-07","v":71},
      {"s":"e25","t":"2016-01","v":72},{"s":"e25","t":"2020-01","v":72},{"s":"e25","t":"2020-07","v":76},{"s":"e25","t":"2021-01","v":85},{"s":"e25","t":"2021-07","v":96},{"s":"e25","t":"2022-01","v":106},{"s":"e25","t":"2022-07","v":113},{"s":"e25","t":"2023-01","v":118},{"s":"e25","t":"2023-07","v":121},{"s":"e25","t":"2024-01","v":120},{"s":"e25","t":"2024-07","v":115},{"s":"e25","t":"2025-01","v":108},{"s":"e25","t":"2025-07","v":100},{"s":"e25","t":"2026-01","v":92},{"s":"e25","t":"2026-07","v":85},{"s":"e25","t":"2027-01","v":79},{"s":"e25","t":"2027-07","v":75},{"s":"e25","t":"2028-01","v":72},{"s":"e25","t":"2030-01","v":72},
      {"s":"e26","t":"2020-03","v":72},{"s":"e26","t":"2020-09","v":78},{"s":"e26","t":"2021-03","v":88},{"s":"e26","t":"2021-09","v":98},{"s":"e26","t":"2022-03","v":107},{"s":"e26","t":"2022-09","v":113},{"s":"e26","t":"2023-03","v":116},{"s":"e26","t":"2023-09","v":117},{"s":"e26","t":"2024-03","v":115},{"s":"e26","t":"2024-09","v":110},{"s":"e26","t":"2025-03","v":103},{"s":"e26","t":"2025-09","v":95},{"s":"e26","t":"2026-03","v":88},{"s":"e26","t":"2026-09","v":81},{"s":"e26","t":"2027-03","v":76},{"s":"e26","t":"2027-09","v":73},{"s":"e26","t":"2028-03","v":72},
      {"s":"e27","t":"2015-01","v":70},{"s":"e27","t":"2020-01","v":70},{"s":"e27","t":"2020-09","v":76},{"s":"e27","t":"2021-04","v":86},{"s":"e27","t":"2021-10","v":98},{"s":"e27","t":"2022-04","v":109},{"s":"e27","t":"2022-10","v":117},{"s":"e27","t":"2023-04","v":122},{"s":"e27","t":"2023-10","v":125},{"s":"e27","t":"2024-04","v":125},{"s":"e27","t":"2024-10","v":122},{"s":"e27","t":"2025-04","v":115},{"s":"e27","t":"2025-10","v":106},{"s":"e27","t":"2026-04","v":96},{"s":"e27","t":"2026-10","v":87},{"s":"e27","t":"2027-04","v":79},{"s":"e27","t":"2027-10","v":72},{"s":"e27","t":"2028-02","v":70},{"s":"e27","t":"2030-01","v":70},
      {"s":"e28","t":"2020-06","v":70},{"s":"e28","t":"2021-01","v":76},{"s":"e28","t":"2021-07","v":86},{"s":"e28","t":"2022-01","v":98},{"s":"e28","t":"2022-07","v":109},{"s":"e28","t":"2023-01","v":117},{"s":"e28","t":"2023-07","v":122},{"s":"e28","t":"2024-01","v":125},{"s":"e28","t":"2024-07","v":125},{"s":"e28","t":"2025-01","v":124},{"s":"e28","t":"2025-07","v":121},{"s":"e28","t":"2026-01","v":118},{"s":"e28","t":"2026-07","v":113},{"s":"e28","t":"2027-01","v":108},{"s":"e28","t":"2027-07","v":103},{"s":"e28","t":"2028-01","v":98},{"s":"e28","t":"2028-07","v":93},{"s":"e28","t":"2029-01","v":88},{"s":"e28","t":"2029-07","v":85},{"s":"e28","t":"2030-01","v":81}
    ],
    "trend": [
      {"t":"1993-11","v":107},{"t":"1994-05","v":95},{"t":"1994-11","v":85},{"t":"1995-05","v":78},{"t":"1995-11","v":73.5},{"t":"1996-05","v":70},{"t":"1996-11","v":71.5},{"t":"1997-05","v":75.5},{"t":"1997-11","v":83},{"t":"1998-05","v":95},{"t":"1998-11","v":112},{"t":"1999-05","v":134},{"t":"1999-11","v":162},{"t":"2000-05","v":191},{"t":"2000-11","v":212},{"t":"2001-05","v":220},{"t":"2001-11","v":214},{"t":"2002-05","v":197},{"t":"2002-11","v":172},{"t":"2003-05","v":146},{"t":"2003-11","v":122},{"t":"2004-05","v":103},{"t":"2004-11","v":89},{"t":"2005-05","v":79},{"t":"2005-11","v":73.5},{"t":"2006-06","v":70},{"t":"2006-12","v":71.5},{"t":"2007-06","v":76},{"t":"2007-12","v":84},{"t":"2008-06","v":96},{"t":"2008-12","v":113},{"t":"2009-06","v":136},{"t":"2009-12","v":164},{"t":"2010-06","v":193},{"t":"2010-12","v":213},{"t":"2011-06","v":220},{"t":"2011-12","v":214},{"t":"2012-06","v":196},{"t":"2012-12","v":171},{"t":"2013-06","v":145},{"t":"2013-12","v":121},{"t":"2014-06","v":102},{"t":"2014-12","v":88},{"t":"2015-06","v":78.5},{"t":"2015-12","v":73},{"t":"2016-07","v":70},{"t":"2017-01","v":71.5},{"t":"2017-07","v":76},{"t":"2018-01","v":84},{"t":"2018-07","v":96},{"t":"2019-01","v":113},{"t":"2019-07","v":136},{"t":"2020-01","v":164},{"t":"2020-07","v":193},{"t":"2021-01","v":213},{"t":"2021-07","v":220},{"t":"2022-01","v":214},{"t":"2022-07","v":196},{"t":"2023-01","v":171},{"t":"2023-07","v":145},{"t":"2024-01","v":121},{"t":"2024-07","v":102},{"t":"2025-01","v":88},{"t":"2025-07","v":78.5},{"t":"2026-01","v":73},{"t":"2026-09","v":70},{"t":"2027-03","v":71.5},{"t":"2027-09","v":76},{"t":"2028-03","v":84},{"t":"2028-09","v":96},{"t":"2029-03","v":113},{"t":"2029-09","v":136},{"t":"2030-03","v":164}
    ],
    "last": [
      {"t":"1993-11","v":97},{"t":"1993-12","v":103},{"t":"1994-02","v":95},{"t":"1994-04","v":82},{"t":"1994-07","v":82},{"t":"1994-10","v":84},{"t":"1995-01","v":81},{"t":"1995-04","v":79},{"t":"1995-07","v":76},{"t":"1995-10","v":74},{"t":"1996-01","v":72},{"t":"1996-04","v":71},{"t":"1996-07","v":72},{"t":"1996-10","v":73},{"t":"1997-01","v":72},{"t":"1997-04","v":73},{"t":"1997-07","v":76},{"t":"1997-10","v":82},{"t":"1998-01","v":95},{"t":"1998-04","v":105},{"t":"1998-07","v":115},{"t":"1998-10","v":130},{"t":"1999-01","v":133},{"t":"1999-04","v":145},{"t":"1999-07","v":158},{"t":"1999-10","v":170},{"t":"2000-01","v":165},{"t":"2000-04","v":185},{"t":"2000-06","v":192},{"t":"2000-08","v":201},{"t":"2000-10","v":178},{"t":"2001-01","v":168},{"t":"2001-04","v":172},{"t":"2001-07","v":160},{"t":"2001-09","v":200},{"t":"2001-11","v":222},{"t":"2002-01","v":210},{"t":"2002-03","v":198},{"t":"2002-06","v":188},{"t":"2002-09","v":172},{"t":"2002-12","v":155},{"t":"2003-03","v":135},{"t":"2003-06","v":130},{"t":"2003-09","v":124},{"t":"2003-12","v":122},{"t":"2004-03","v":110},{"t":"2004-06","v":106},{"t":"2004-09","v":110},{"t":"2004-12","v":98},{"t":"2005-03","v":94},{"t":"2005-06","v":90},{"t":"2005-09","v":87},{"t":"2005-12","v":84},{"t":"2006-03","v":81},{"t":"2006-06","v":80},{"t":"2006-09","v":78},{"t":"2006-12","v":76},{"t":"2007-03","v":74},{"t":"2007-06","v":73},{"t":"2007-09","v":71},{"t":"2007-12","v":70},{"t":"2008-03","v":68},{"t":"2008-06","v":69}
    ],
    "monavg": [
      {"t":"1993-11","v":112},{"t":"1994-01","v":98},{"t":"1994-02","v":88},{"t":"1994-04","v":85},{"t":"1994-06","v":80},{"t":"1994-08","v":84},{"t":"1994-10","v":81},{"t":"1994-12","v":79},{"t":"1995-02","v":83},{"t":"1995-04","v":80},{"t":"1995-06","v":77},{"t":"1995-08","v":75},{"t":"1995-10","v":74},{"t":"1995-12","v":72},{"t":"1996-02","v":72},{"t":"1996-04","v":70},{"t":"1996-06","v":71},{"t":"1996-08","v":70},{"t":"1996-10","v":72},{"t":"1996-12","v":74},{"t":"1997-02","v":70},{"t":"1997-04","v":73},{"t":"1997-06","v":71},{"t":"1997-07","v":75},{"t":"1997-08","v":74},{"t":"1997-09","v":78},{"t":"1997-10","v":77},{"t":"1997-11","v":88},{"t":"1997-12","v":94},{"t":"1998-01","v":92},{"t":"1998-02","v":98},{"t":"1998-03","v":106},{"t":"1998-04","v":102},{"t":"1998-05","v":110},{"t":"1998-06","v":112},{"t":"1998-07","v":123},{"t":"1998-08","v":118},{"t":"1998-09","v":132},{"t":"1998-10","v":125},{"t":"1998-10-15","v":140},{"t":"1998-11","v":145},{"t":"1998-12","v":138},{"t":"1999-01","v":128},{"t":"1999-01-15","v":120},{"t":"1999-02","v":142},{"t":"1999-03","v":132},{"t":"1999-03-15","v":155},{"t":"1999-04","v":150},{"t":"1999-05","v":146},{"t":"1999-05-15","v":135},{"t":"1999-06","v":165},{"t":"1999-07","v":158},{"t":"1999-07-15","v":175},{"t":"1999-08","v":172},{"t":"1999-09","v":162},{"t":"1999-09-15","v":150},{"t":"1999-10","v":178},{"t":"1999-11","v":185},{"t":"1999-11-15","v":192},{"t":"1999-12","v":168},{"t":"2000-01","v":158},{"t":"2000-01-15","v":150},{"t":"2000-02","v":175},{"t":"2000-03","v":190},{"t":"2000-03-15","v":196},{"t":"2000-04","v":182},{"t":"2000-05","v":170},{"t":"2000-05-15","v":160},{"t":"2000-06","v":192},{"t":"2000-07","v":200},{"t":"2000-07-15","v":185},{"t":"2000-08","v":180},{"t":"2000-09","v":165},{"t":"2000-09-15","v":155},{"t":"2000-10","v":172},{"t":"2000-11","v":185},{"t":"2000-11-15","v":170},{"t":"2000-12","v":150},{"t":"2001-01","v":165},{"t":"2001-01-15","v":148},{"t":"2001-02","v":142},{"t":"2001-03","v":178},{"t":"2001-03-15","v":160},{"t":"2001-04","v":185},{"t":"2001-05","v":148},{"t":"2001-05-15","v":165},{"t":"2001-06","v":155},{"t":"2001-07","v":140},{"t":"2001-07-15","v":150},{"t":"2001-08","v":170},{"t":"2001-09","v":218},{"t":"2001-10","v":205},{"t":"2001-11","v":228},{"t":"2001-12","v":198},{"t":"2002-01","v":225},{"t":"2002-02","v":205},{"t":"2002-02-15","v":215},{"t":"2002-03","v":190},{"t":"2002-04","v":195},{"t":"2002-04-15","v":180},{"t":"2002-05","v":178},{"t":"2002-06","v":200},{"t":"2002-06-15","v":185},{"t":"2002-07","v":168},{"t":"2002-08","v":190},{"t":"2002-08-15","v":172},{"t":"2002-09","v":175},{"t":"2002-10","v":165},{"t":"2002-11","v":160},{"t":"2002-12","v":150},{"t":"2003-01","v":142},{"t":"2003-02","v":130},{"t":"2003-03","v":138},{"t":"2003-03-15","v":122},{"t":"2003-04","v":125},{"t":"2003-05","v":132},{"t":"2003-05-15","v":140},{"t":"2003-06","v":128},{"t":"2003-07","v":136},{"t":"2003-07-15","v":118},{"t":"2003-08","v":120},{"t":"2003-09","v":125},{"t":"2003-10","v":155},{"t":"2003-11","v":128},{"t":"2003-12","v":118},{"t":"2004-01","v":116},{"t":"2004-02","v":112},{"t":"2004-03","v":106},{"t":"2004-04","v":118},{"t":"2004-05","v":105},{"t":"2004-06","v":100},{"t":"2004-07","v":112},{"t":"2004-08","v":128},{"t":"2004-09","v":96},{"t":"2004-10","v":119},{"t":"2004-11","v":100},{"t":"2004-12","v":92},{"t":"2005-02","v":98},{"t":"2005-04","v":90},{"t":"2005-06","v":94},{"t":"2005-08","v":86},{"t":"2005-10","v":88},{"t":"2005-12","v":82},{"t":"2006-02","v":84},{"t":"2006-04","v":80},{"t":"2006-06","v":82},{"t":"2006-08","v":77},{"t":"2006-10","v":80},{"t":"2006-12","v":76},{"t":"2007-02","v":78},{"t":"2007-04","v":73},{"t":"2007-06","v":75},{"t":"2007-08","v":71},{"t":"2007-10","v":72},{"t":"2007-12","v":70},{"t":"2008-02","v":72},{"t":"2008-04","v":69},{"t":"2008-06","v":70},{"t":"2008-08","v":68}
    ],
    "boxes": [
      {"lab":"Mon\u00a0 Avg","t":"1999-08-17","t2":"2001-07-22","v":238.1,"v2":232.5},
      {"lab":"Trend","t":"2003-06-27","t2":"2004-11-04","v":224.8,"v2":219.3},
      {"lab":"Last F10.7","t":"1996-05-03","t2":"1998-08-25","v":215.5,"v2":209.9},
      {"lab":"Schatten Oct 96","t":"2014-01-15","t2":"2017-07-17","v":258.1,"v2":252.1},
      {"lab":"Schatten Sep 97","t":"2014-05-01","t2":"2017-10-31","v":228.9,"v2":223.1},
      {"lab":"Schatten Sep 00","t":"2013-12-21","t2":"2017-06-29","v":195.0,"v2":189.2},
      {"lab":"Schatten Jul 02","t":"2014-04-20","t2":"2017-08-04","v":176.9,"v2":171.1},
      {"lab":"Schatten Jul 03","t":"2014-02-28","t2":"2017-05-20","v":156.0,"v2":150.2},
      {"lab":"Schatten Mar 08","t":"2026-02-14","t2":"2029-06-18","v":136.4,"v2":130.8},
      {"lab":"Schatten Nov 05","t":"2020-06-20","t2":"2023-12-21","v":79.9,"v2":73.9}
    ],
    "labels": [
      {"lab":"Mon\u00a0 Avg","t":"2000-08-04","v":235.3},
      {"lab":"Trend","t":"2004-03-01","v":222.1},
      {"lab":"Last F10.7","t":"1997-06-28","v":212.7},
      {"lab":"Schatten Oct 96","t":"2015-10-16","v":255.1},
      {"lab":"Schatten Sep 97","t":"2016-01-30","v":226.0},
      {"lab":"Schatten Sep 00","t":"2015-09-24","v":192.1},
      {"lab":"Schatten Jul 02","t":"2015-12-12","v":174.0},
      {"lab":"Schatten Jul 03","t":"2015-10-09","v":153.1},
      {"lab":"Schatten Mar 08","t":"2027-10-16","v":133.6},
      {"lab":"Schatten Nov 05","t":"2022-03-22","v":76.9}
    ],
    "arrows": [
      {"lab":"Mon\u00a0 Avg","t":"2000-08-19","v":232.5,"t2":"2001-10-09","v2":223.6},
      {"lab":"Trend","t":"2004-01-30","v":219.3,"t2":"2000-12-24","v2":213.8},
      {"lab":"Last F10.7","t":"1997-08-26","v":209.9,"t2":"2000-07-22","v2":199.7},
      {"lab":"Schatten Oct 96","t":"2016-08-30","v":252.1,"t2":"2018-08-13","v2":238.7},
      {"lab":"Schatten Sep 97","t":"2017-07-17","v":223.1,"t2":"2020-03-17","v2":211.0},
      {"lab":"Schatten Sep 00","t":"2016-08-04","v":189.2,"t2":"2018-11-25","v2":175.4},
      {"lab":"Schatten Jul 02","t":"2017-06-03","v":171.1,"t2":"2021-10-05","v2":162.4},
      {"lab":"Schatten Jul 03","t":"2017-04-20","v":150.2,"t2":"2021-08-04","v2":137.8},
      {"lab":"Schatten Mar 08","t":"2027-10-16","v":130.8,"t2":"2028-11-11","v2":90.5},
      {"lab":"Schatten Nov 05","t":"2023-04-06","v":79.9,"t2":"2023-01-26","v2":109.7}
    ],
    "heads": [
      {"lab":"Mon\u00a0 Avg","t":"2001-10-09","v":223.6},
      {"lab":"Trend","t":"2000-12-24","v":213.8},
      {"lab":"Last F10.7","t":"2000-07-22","v":199.7},
      {"lab":"Schatten Oct 96","t":"2018-08-13","v":238.7},
      {"lab":"Schatten Sep 97","t":"2020-03-17","v":211.0},
      {"lab":"Schatten Sep 00","t":"2018-11-25","v":175.4},
      {"lab":"Schatten Jul 02","t":"2021-10-05","v":162.4},
      {"lab":"Schatten Jul 03","t":"2021-08-04","v":137.8},
      {"lab":"Schatten Mar 08","t":"2028-11-11","v":90.5},
      {"lab":"Schatten Nov 05","t":"2023-01-26","v":109.7}
    ]
  },
  "encoding": {
    "x": {
      "field": "t", "type": "temporal",
      "scale": {"type": "utc", "domain": [{"year": 1993, "month": "nov", "date": 27, "utc": true}, {"year": 2030, "month": "jan", "date": 1, "utc": true}]},
      "axis": {
        "title": null,
        "values": [
          {"year": 1993, "month": "nov", "date": 27, "utc": true},
          {"year": 1999, "month": "may", "date": 20, "utc": true},
          {"year": 2004, "month": "nov", "date": 9, "utc": true},
          {"year": 2010, "month": "may", "date": 2, "utc": true},
          {"year": 2015, "month": "oct", "date": 23, "utc": true},
          {"year": 2021, "month": "apr", "date": 14, "utc": true},
          {"year": 2026, "month": "oct", "date": 5, "utc": true}
        ],
        "format": "%d-%b-%y",
        "labelFontSize": 14,
        "labelPadding": 15,
        "labelFlush": false,
        "labelOverlap": false,
        "grid": true
      }
    },
    "y": {
      "field": "v", "type": "quantitative",
      "scale": {"domain": [50, 270], "nice": false, "zero": false},
      "axis": {
        "title": null,
        "values": [50, 100, 150, 200, 250, 270],
        "labelExpr": "datum.value == 270 ? '' : datum.label",
        "tickColor": {"condition": {"test": "datum.value == 270", "value": "transparent"}, "value": "#000000"},
        "labelFontSize": 12,
        "labelPadding": 10,
        "grid": true
      }
    }
  },
  "layer": [
    {
      "data": {"name": "schatten"},
      "mark": {"type": "line", "strokeWidth": 1.1, "interpolate": "monotone", "clip": true},
      "encoding": {
        "color": {
          "field": "s", "type": "nominal", "legend": null,
          "scale": {
            "domain": ["a1","a2","a3","a4","a5","a6","a7","a8","a9","b1","b2","b3","b4","b5","b6","b7","b8","b9","b10","b11","b12","d1","d2","d3","d4","d5","d6","d7","d8","l1","l2","l3","l4","l5","l6","l7","l8","l9","e1","e2","e3","e4","e5","e6","e7","e30","e8","e9","e10","e11","e12","e13","e14","e15","e16","e17","e18","e19","e20","e21","e22","e23","e24","e25","e26","e27","e28"],
            "range": ["#F0DC00","#00E0E8","#2030E0","#3399FF","#8B5A2B","#5F9EA0","#FF9966","#FF99CC","#555555","#FFC000","#F5EC3A","#33CC33","#00CCCC","#2233CC","#66AAFF","#FF8C1A","#FFA850","#4477EE","#FF66CC","#FFAACC","#FFB080","#663300","#505050","#8B4513","#333333","#808080","#404040","#993333","#667766","#D633D6","#2020CC","#FFE833","#22BB22","#33CCCC","#88EE55","#FF7F50","#993300","#FF44AA","#993399","#993366","#3355DD","#555555","#339999","#44CCEE","#2244DD","#333399","#FFE033","#66CC33","#66AAFF","#FF9933","#D2915A","#FF99CC","#8B4513","#A0522D","#555555","#333333","#666666","#996666","#FFE033","#CC33CC","#FF66AA","#33CCCC","#FF8060","#33CC33","#77DD55","#8B4513","#446666"]
          }
        }
      }
    },
    {
      "data": {"name": "trend"},
      "mark": {"type": "line", "color": "#FF0000", "strokeWidth": 2.3, "interpolate": "monotone", "clip": true}
    },
    {
      "data": {"name": "last"},
      "mark": {"type": "line", "color": "#4433CC", "strokeWidth": 1.3, "clip": true}
    },
    {
      "data": {"name": "monavg"},
      "mark": {"type": "line", "color": "#FF00FF", "strokeWidth": 1.6, "clip": true}
    },
    {
      "data": {"name": "arrows"},
      "mark": {"type": "rule", "color": "#000000", "strokeWidth": 1.7},
      "encoding": {"x2": {"field": "t2"}, "y2": {"field": "v2"}}
    },
    {
      "data": {"name": "heads"},
      "mark": {"type": "point", "shape": "triangle-up", "filled": true, "color": "#000000", "size": 70, "opacity": 1},
      "encoding": {
        "angle": {
          "field": "lab", "type": "nominal", "legend": null,
          "scale": {
            "type": "ordinal",
            "domain": ["Mon\u00a0 Avg","Trend","Last F10.7","Schatten Oct 96","Schatten Sep 97","Schatten Sep 00","Schatten Jul 02","Schatten Jul 03","Schatten Mar 08","Schatten Nov 05"],
            "range": [126.9, 259.5, 110.7, 127.1, 117.0, 123.4, 101.8, 107.9, 166.5, 356.7]
          }
        }
      }
    },
    {
      "data": {"name": "boxes"},
      "mark": {"type": "rect", "fill": "#CCFFFF", "stroke": "#000000", "strokeWidth": 1.6},
      "encoding": {"x2": {"field": "t2"}, "y2": {"field": "v2"}}
    },
    {
      "data": {"name": "labels"},
      "mark": {"type": "text", "font": "DejaVu Sans", "fontSize": 16.5, "color": "#1a1a1a", "align": "center", "baseline": "middle"},
      "encoding": {"text": {"field": "lab"}}
    }
  ],
  "config": {
    "view": {"stroke": null},
    "axis": {
      "domainColor": "#000000",
      "domainWidth": 2,
      "gridColor": "#000000",
      "gridWidth": 1.8,
      "gridOpacity": 1,
      "tickColor": "#000000",
      "tickWidth": 1.5,
      "tickSize": 5,
      "labelColor": "#222222",
      "labelFont": "DejaVu Sans"
    }
  }
}
